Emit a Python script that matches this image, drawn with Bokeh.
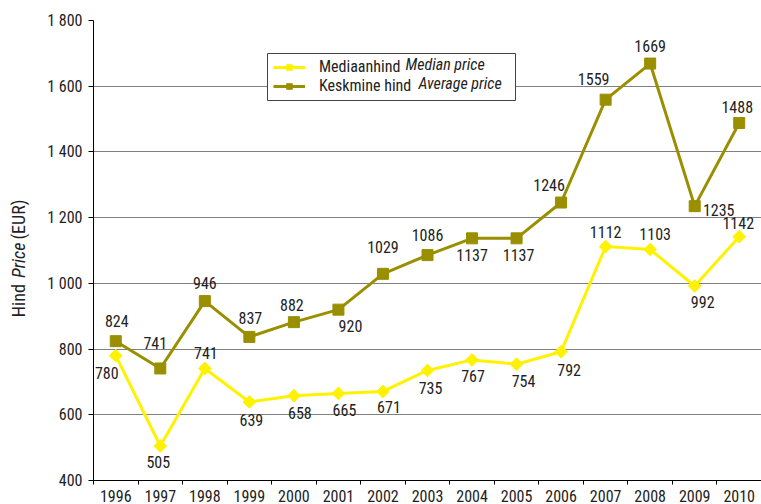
from math import pi
from bokeh.plotting import figure
from bokeh.layouts import row
from bokeh.models import (FixedTicker, Range1d, Legend, LegendItem, Label,
                          ColumnDataSource, BoxAnnotation)
from bokeh.core.properties import value
from bokeh.embed import file_html
from bokeh.resources import INLINE

# ---------------- data ----------------
years = [1996, 1997, 1998, 1999, 2000, 2001, 2002, 2003, 2004, 2005,
         2006, 2007, 2008, 2009, 2010]
median_price = [780, 505, 741, 639, 658, 665, 671, 735, 767, 754,
                792, 1112, 1103, 992, 1142]
average_price = [824, 741, 946, 837, 882, 920, 1029, 1086, 1137, 1137,
                 1246, 1559, 1669, 1235, 1488]
y_ticks = [400, 600, 800, 1000, 1200, 1400, 1600, 1800]
y_tick_labels = ["400", "600", "800", "1 000", "1 200", "1 400", "1 600", "1 800"]
x_tick_labels = ["1996", "1997", "1998", "1999", "2000", "2001", "2002", "2003",
                 "2004", "2005", "2006", "2007", "2008", "2009", "2010"]
median_name = ("Mediaanhind", "Median price")
average_name = ("Keskmine hind", "Average price")
axis_title = ("Hind", "Price", "(EUR)")

# ---------------- label placement (pixels) ----------------
median_dx = [-9, -2, 1, 2, 6, 6, 6, 3, 1, 7, 8, 0, 5, 8, -1]
median_dy = [17, 16, -15, 18, 17, 17, 16, 18, 16, 17, 18, -15, -16, 16, -14]
average_dx = [1, -5, 0, 1, -2, 12, 0, 0, 0, 2, -12, -12, 0, 24, -2]
average_dy = [-20, -25, -18, -19, -17, 16, -27, -20, 17, 17, -18, -21, -18, 4, -16]

YEL = "#FFF200"
OLV = "#998F00"
TXT = "#222222"
FONT = "Roboto Condensed"
NUM_SIZE = "16px"
LEG_SIZE = "16px"

TITLE_W = 40
W, H = 761, 504

# ---------------- main chart ----------------
p = figure(width=W - TITLE_W, height=H,
           x_range=Range1d(1995.5, 2010.5), y_range=Range1d(400, 1800),
           output_backend="svg", toolbar_location=None,
           min_border_left=53, min_border_right=0,
           min_border_top=20, min_border_bottom=21)
p.outline_line_color = None

p.xgrid.visible = False
p.ygrid.grid_line_color = "#808080"
p.ygrid.grid_line_width = 1

p.yaxis.ticker = FixedTicker(ticks=y_ticks)
p.yaxis.major_label_overrides = dict(zip(y_ticks, y_tick_labels))
p.yaxis.axis_line_color = "black"
p.yaxis.major_tick_line_color = "black"
p.yaxis.major_tick_in = 0
p.yaxis.major_tick_out = 5
p.yaxis.minor_tick_line_color = None
p.yaxis.major_label_standoff = 6
p.yaxis.major_label_text_font = FONT
p.yaxis.major_label_text_font_size = NUM_SIZE
p.yaxis.major_label_text_color = TXT

p.xaxis.ticker = FixedTicker(ticks=years,
                             minor_ticks=[y - 0.5 for y in years] + [years[-1] + 0.5])
p.xaxis.major_label_overrides = dict(zip(years, x_tick_labels))
p.xaxis.axis_line_color = "black"
p.xaxis.major_tick_in = 0
p.xaxis.major_tick_out = 0
p.xaxis.major_tick_line_color = None
p.xaxis.minor_tick_in = 0
p.xaxis.minor_tick_out = 4
p.xaxis.minor_tick_line_color = "black"
p.xaxis.major_label_standoff = 5
p.xaxis.major_label_text_font = FONT
p.xaxis.major_label_text_font_size = NUM_SIZE
p.xaxis.major_label_text_color = TXT

med_src = ColumnDataSource(dict(x=years, y=median_price,
                                t=[str(v) for v in median_price],
                                dx=median_dx, dy=median_dy))
avg_src = ColumnDataSource(dict(x=years, y=average_price,
                                t=[str(v) for v in average_price],
                                dx=average_dx, dy=average_dy))

med_line = p.line("x", "y", source=med_src, line_color=YEL, line_width=3)
med_pts = p.scatter("x", "y", source=med_src, marker="square", angle=pi / 4,
                    size=9, fill_color=YEL, line_color=YEL)
avg_line = p.line("x", "y", source=avg_src, line_color=OLV, line_width=3)
avg_pts = p.scatter("x", "y", source=avg_src, marker="square",
                    size=11, fill_color=OLV, line_color=OLV)

for src in (med_src, avg_src):
    p.text("x", "y", text="t", source=src, x_offset="dx", y_offset="dy",
           text_align="center", text_baseline="middle",
           text_font=value(FONT), text_font_size=NUM_SIZE, text_color=TXT)

# legend: white framed box, transparent Bokeh legend on top, italic parts as labels
p.add_layout(BoxAnnotation(left=174, right=422, bottom=380, top=427,
                           left_units="screen", right_units="screen",
                           bottom_units="screen", top_units="screen",
                           fill_color="white", fill_alpha=1.0,
                           line_color="#444444", line_width=1, line_alpha=1.0))

legend = Legend(items=[LegendItem(label=median_name[0], renderers=[med_line, med_pts]),
                       LegendItem(label=average_name[0], renderers=[avg_line, avg_pts])],
                location=(180, 385), orientation="vertical",
                padding=6, spacing=-3, margin=0,
                glyph_width=32, glyph_height=14, label_height=14,
                label_standoff=14,
                label_text_font=FONT, label_text_font_size=LEG_SIZE,
                label_text_color=TXT,
                border_line_color=None, background_fill_alpha=0.0)
p.add_layout(legend, "center")

for txt, xx, yy in ((median_name[1], 312, 416), (average_name[1], 325, 397)):
    p.add_layout(Label(x=xx, y=yy, x_units="screen", y_units="screen", text=txt,
                       text_font=FONT, text_font_size=LEG_SIZE,
                       text_font_style="italic", text_color=TXT,
                       text_align="left", text_baseline="middle"))

# ---------------- y axis title panel (mixed roman / italic) ----------------
t = figure(width=TITLE_W, height=H, x_range=Range1d(0, TITLE_W), y_range=Range1d(0, H),
           output_backend="svg", toolbar_location=None,
           min_border=0, x_axis_type=None, y_axis_type=None)
t.outline_line_color = None
t.grid.visible = False
title_src = ColumnDataSource(dict(x=[18, 18, 18], y=[H - 325, H - 282, H - 240],
                                  t=list(axis_title),
                                  s=["normal", "italic", "normal"]))
t.text("x", "y", text="t", source=title_src, angle=pi / 2,
       text_align="left", text_baseline="middle", text_font_style="s",
       text_font=value(FONT), text_font_size="18px", text_color=TXT)

open("out.html", "w").write(file_html(row(t, p), INLINE))
